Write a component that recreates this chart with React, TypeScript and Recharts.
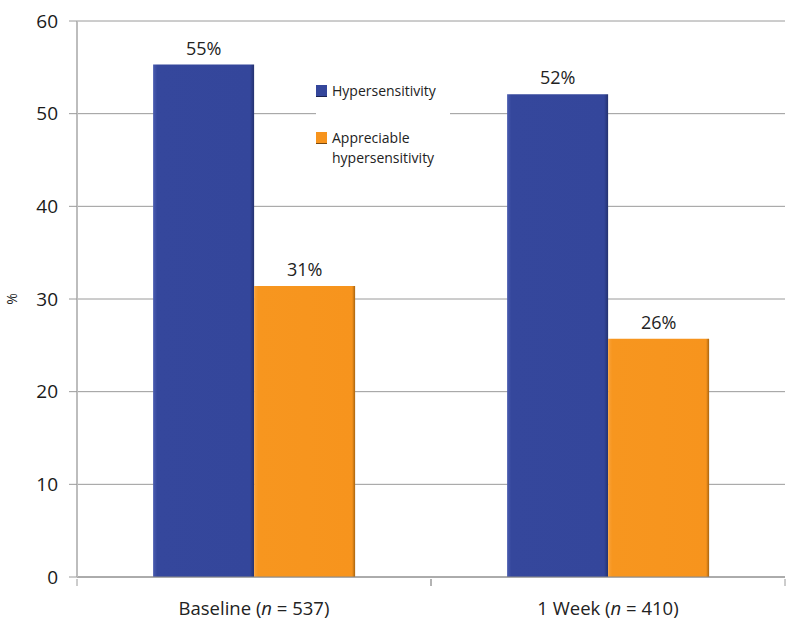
import { Bar, BarChart, CartesianGrid, LabelList, Legend, XAxis, YAxis } from 'recharts';

const categories = ['Baseline', '1 Week'];
const sampleSizes = [537, 410];
const hypersensitivity = [55.3, 52.1];
const appreciable = [31.4, 25.7];
const hyperLabels = ['55%', '52%'];
const appreciableLabels = ['31%', '26%'];
const yTicks = [0, 10, 20, 30, 40, 50, 60];

const data = categories.map((name, i) => ({
  name,
  n: sampleSizes[i],
  hyper: hypersensitivity[i],
  appreciable: appreciable[i],
  hyperLabel: hyperLabels[i],
  appreciableLabel: appreciableLabels[i],
}));

const FONT = '"Open Sans", sans-serif';

// category label plus tick marks on the band edges (as in the original chart)
function CategoryTick({ x, y, payload }: any) {
  const row = data.find((d) => d.name === payload.value);
  const half = payload.offset || 0;
  return (
    <g>
      <line x1={x - half} x2={x - half} y1={y - 8} y2={y - 1} stroke="#9a9a9a" />
      <line x1={x + half} x2={x + half} y1={y - 8} y2={y - 1} stroke="#9a9a9a" />
      <text x={x} y={y + 28} textAnchor="middle" fontFamily={FONT} fontSize={18.5} fill="#222">
        {payload.value} (<tspan fontStyle="italic">n</tspan> = {row ? row.n : ''})
      </text>
    </g>
  );
}

function LegendBox() {
  return (
    <div style={{ background: '#fff', fontFamily: FONT, fontSize: 14, color: '#222', lineHeight: '20px', padding: '2px 0' }}>
      <div style={{ display: 'flex', alignItems: 'center', marginBottom: 27 }}>
        <span style={{ display: 'inline-block', width: 11, height: 11, background: '#34469b', borderBottom: '1px solid #1a2250', marginRight: 5 }} />
        Hypersensitivity
      </div>
      <div style={{ display: 'flex', alignItems: 'flex-start' }}>
        <span style={{ display: 'inline-block', width: 11, height: 11, background: '#f7941d', borderBottom: '1px solid #7a4a10', marginRight: 5, marginTop: 4 }} />
        <span>Appreciable<br />hypersensitivity</span>
      </div>
    </div>
  );
}

export default function App() {
  return (
    <div style={{ position: 'absolute', left: 0, top: 0, background: '#fff' }}>
      <BarChart
        width={800}
        height={635}
        data={data}
        margin={{ top: 21, right: 15, bottom: 0, left: 0 }}
        barCategoryGap="21.5%"
        barGap={0}
      >
        <defs>
          <linearGradient id="blueFill" x1="0" y1="0" x2="1" y2="0">
            <stop offset="0%" stopColor="#4a5cb0" />
            <stop offset="4%" stopColor="#35479c" />
            <stop offset="96%" stopColor="#34469b" />
            <stop offset="100%" stopColor="#24326f" />
          </linearGradient>
          <linearGradient id="orangeFill" x1="0" y1="0" x2="1" y2="0">
            <stop offset="0%" stopColor="#f9a23a" />
            <stop offset="4%" stopColor="#f7961f" />
            <stop offset="97%" stopColor="#f7941d" />
            <stop offset="100%" stopColor="#a8640f" />
          </linearGradient>
        </defs>
        <CartesianGrid horizontal vertical={false} stroke="#9a9a9a" />
        <XAxis
          dataKey="name"
          tick={<CategoryTick />}
          tickLine={false}
          tickSize={8}
          axisLine={{ stroke: '#8a8a8a' }}
          height={58}
          interval={0}
        />
        <YAxis
          width={77}
          domain={[0, 60]}
          ticks={yTicks}
          interval={0}
          tickSize={8}
          tickMargin={11}
          axisLine={{ stroke: '#bdbdbd', strokeWidth: 2 }}
          tickLine={{ stroke: '#9a9a9a' }}
          tick={{ fontFamily: FONT, fontSize: 19, fill: '#1a1a1a' }}
          label={{ value: '%', angle: -90, position: 'insideLeft', offset: 12, style: { fontFamily: FONT, fontSize: 14, fill: '#222', textAnchor: 'middle' } }}
        />
        <Legend
          layout="vertical"
          align="center"
          verticalAlign="middle"
          content={<LegendBox />}
          wrapperStyle={{ left: 316, top: 79, width: 134 }}
        />
        <Bar dataKey="hyper" fill="url(#blueFill)" isAnimationActive={false}>
          <LabelList dataKey="hyperLabel" position="top" offset={10} style={{ fontFamily: FONT, fontSize: 18, fill: '#222' }} />
        </Bar>
        <Bar dataKey="appreciable" fill="url(#orangeFill)" isAnimationActive={false}>
          <LabelList dataKey="appreciableLabel" position="top" offset={10} style={{ fontFamily: FONT, fontSize: 18, fill: '#222' }} />
        </Bar>
      </BarChart>
    </div>
  );
}
